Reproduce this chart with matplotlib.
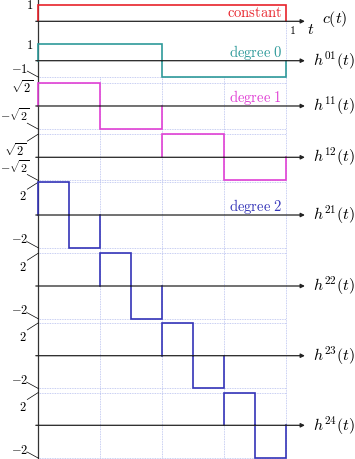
import numpy as np
import matplotlib
matplotlib.use("Agg")
import matplotlib.pyplot as plt

plt.rcParams["mathtext.fontset"] = "cm"

# rows, top to bottom
names = ["c(t)", "h^{01}(t)", "h^{11}(t)", "h^{12}(t)",
         "h^{21}(t)", "h^{22}(t)", "h^{23}(t)", "h^{24}(t)"]
r2 = np.sqrt(2)
values = [
    [1],
    [1, -1],
    [r2, -r2, 0, 0],
    [0, 0, r2, -r2],
    [2, -2, 0, 0, 0, 0, 0, 0],
    [0, 0, 2, -2, 0, 0, 0, 0],
    [0, 0, 0, 0, 2, -2, 0, 0],
    [0, 0, 0, 0, 0, 0, 2, -2],
]
amps = [1, 1, r2, r2, 2, 2, 2, 2]
top_labels = ["1", "1", r"\sqrt{2}", r"\sqrt{2}", "2", "2", "2", "2"]
bot_labels = [None, "-1", r"-\sqrt{2}", r"-\sqrt{2}", "-2", "-2", "-2", "-2"]
top_pinned = [False, False, False, True, True, True, True, True]
group_names = ["constant", "degree\\ 0", "degree\\ 1", None, "degree\\ 2", None, None, None]
colors = ["#e8232b", "#2e9a9a", "#e040d4", "#e040d4",
          "#3434b8", "#3434b8", "#3434b8", "#3434b8"]
# baselines (in amplitude units, measured from top of picture)
baselines = [-1.299, -3.701, -6.463, -9.591, -13.110, -17.439, -21.689, -25.933]

W, H = 355, 459
x0_px, sx = 38.3, 248.0   # t=0 position, px per unit t
sy = 16.4                 # px per amplitude unit
px_x = 1 / sx
px_y = 1 / sy

fig = plt.figure(figsize=(W / 100, H / 100), dpi=100)
ax = fig.add_axes([0, 0, 1, 1])
ax.set_xlim(-x0_px / sx, (W - x0_px) / sx)
ax.set_ylim(-H / sy, 0)
ax.axis("off")

grid_c = "#b4bdee"
grid_kw = dict(color=grid_c, lw=0.6, ls=(0, (1, 1)), zorder=1)

# dotted guide lines
y_first = baselines[1] - amps[1]
for xv in [0.25, 0.5, 0.75]:
    ax.plot([xv, xv], [y_first, -H / sy], **grid_kw)
ax.plot([1, 1], [baselines[0], -H / sy], **grid_kw)
for i in range(1, len(names)):
    for yv in (baselines[i] + amps[i], baselines[i] - amps[i]):
        if i == 1 and yv > baselines[i]:
            continue
        ax.plot([0, 1], [yv, yv], **grid_kw)

# vertical axis
ax.plot([0, 0], [0, -H / sy], color="#333333", lw=0.9, zorder=2)

for i, name in enumerate(names):
    b = baselines[i]
    v = values[i]
    n = len(v)
    edges = np.linspace(0, 1, n + 1)
    xs, ys = [], []
    for k in range(n):
        if v[k] == 0:
            continue
        xs += [edges[k], edges[k], edges[k + 1], edges[k + 1], np.nan]
        ys += [b, b + v[k], b + v[k], b, np.nan]
    ax.plot(xs, ys, color=colors[i], lw=1.2, zorder=3, solid_joinstyle="miter")

    # horizontal axis with arrow
    ax.annotate("", xy=(1.075, b), xytext=(-0.01, b),
                arrowprops=dict(arrowstyle="-|>", lw=0.9, color="#222222",
                                mutation_scale=6, shrinkA=0, shrinkB=0),
                zorder=4)

    # row name on the right
    if i == 0:
        ax.text(322 * px_x - x0_px / sx, b + 2 * px_y, f"${name}$",
                fontsize=11.5, va="center", ha="left")
    else:
        ax.text(313 * px_x - x0_px / sx, b, f"${name}$",
                fontsize=11.5, va="center", ha="left")

    # group label
    if group_names[i]:
        ax.text(1 - 4 * px_x, b + 4 * px_y, rf"$\mathrm{{{group_names[i]}}}$",
                fontsize=10.5, color=colors[i], ha="right", va="baseline")

    # value labels
    top = b + amps[i]
    if top_pinned[i]:
        ax.plot([-11 * px_x, 0], [top - 7 * px_y, top], color="black", lw=0.5, zorder=2)
        ax.text(-12 * px_x, top - 8 * px_y, f"${top_labels[i]}$",
                fontsize=9, ha="right", va="top")
    else:
        ax.text(-5 * px_x, top - ((4 if "sqrt" in top_labels[i] else 0) + 1) * px_y,
                f"${top_labels[i]}$", fontsize=9, ha="right", va="center")
    if bot_labels[i]:
        bot = b - amps[i]
        ax.plot([-11 * px_x, 0], [bot + 6 * px_y, bot], color="black", lw=0.5, zorder=2)
        is_sqrt = "sqrt" in bot_labels[i]
        off = 8 if is_sqrt else 4.5
        ax.text((-8.5 if is_sqrt else -10) * px_x, bot + off * px_y,
                f"${bot_labels[i]}$", fontsize=8.6 if is_sqrt else 9,
                ha="right", va="baseline")

# t axis annotations
ax.text(1 + 6.5 * px_x, baselines[0] - 9 * px_y, "$1$", fontsize=8.5,
        ha="center", va="center")
ax.text(1 + 24 * px_x, baselines[0] - 8 * px_y, "$t$", fontsize=11.5,
        ha="center", va="center")

fig.savefig("out.png", dpi=100)
